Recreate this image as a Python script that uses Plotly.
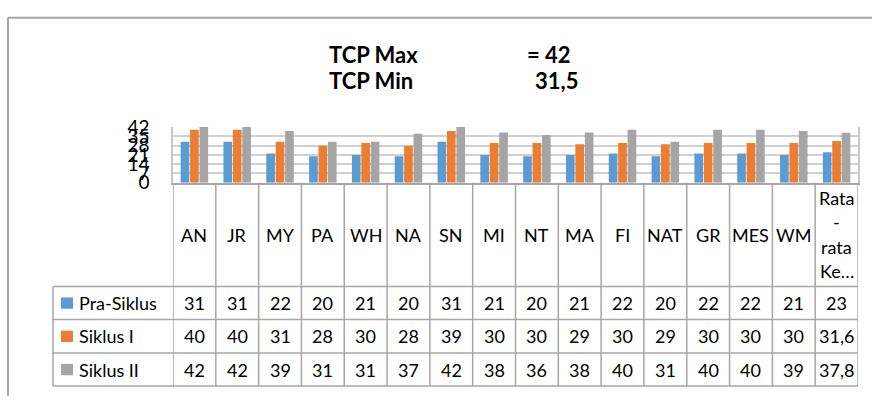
import plotly.graph_objects as go

# data
kategori = ["AN", "JR", "MY", "PA", "WH", "NA", "SN", "MI", "NT", "MA",
            "FI", "NAT", "GR", "MES", "WM", "Rata<br>-<br>rata<br>Ke…"]
pra_siklus = [31, 31, 22, 20, 21, 20, 31, 21, 20, 21, 22, 20, 22, 22, 21, 23]
siklus_1 = [40, 40, 31, 28, 30, 28, 39, 30, 30, 29, 30, 29, 30, 30, 30, 31.6]
siklus_2 = [42, 42, 39, 31, 31, 37, 42, 38, 36, 38, 40, 31, 40, 40, 39, 37.8]
y_ticks = [0, 7, 14, 21, 28, 35, 42]

seri = [
    ("Pra-Siklus", pra_siklus, "#5b9bd5"),
    ("Siklus I", siklus_1, "#ed7d31"),
    ("Siklus II", siklus_2, "#a5a5a5"),
]

W, H = 872, 407
FONT = "Lato, 'Open Sans', sans-serif"
LINE = "#a6a6a6"
TXT = 18


def fx(p):
    return p / W


def fy(p):
    return 1 - p / H


def fmt(v):
    return str(v).replace(".", ",")


# polozaj (pikseli) plot area i tablice
PL, PR, PT, PB = 173, 858, 122, 181
TAB_L = 53
redovi = [291, 326, 361.5, 396.5]

x_idx = list(range(len(kategori)))

fig = go.Figure()
for naziv, vals, boja in seri:
    fig.add_trace(go.Bar(x=x_idx, y=vals, name=naziv, marker_color=boja,
                         marker_line_width=0, showlegend=False))

shapes = []
annots = []

# okvir grafikona
shapes.append(dict(type="line", xref="paper", yref="paper", x0=fx(8), x1=1.0,
                   y0=fy(6), y1=fy(6), line=dict(color=LINE, width=2)))
shapes.append(dict(type="line", xref="paper", yref="paper", x0=fx(8), x1=fx(8),
                   y0=fy(6), y1=0, line=dict(color=LINE, width=2)))

# tablica - vertikalne linije
for i in range(len(kategori) + 1):
    shapes.append(dict(type="line", xref="x", yref="paper", x0=i - 0.5, x1=i - 0.5,
                       y0=fy(PB), y1=fy(redovi[-1]), line=dict(color=LINE, width=1.5)))
shapes.append(dict(type="line", xref="paper", yref="paper", x0=fx(TAB_L), x1=fx(TAB_L),
                   y0=fy(redovi[0]), y1=fy(redovi[-1]), line=dict(color=LINE, width=1.5)))
# horizontalne linije
for r in redovi:
    shapes.append(dict(type="line", xref="paper", yref="paper", x0=fx(TAB_L), x1=fx(PR),
                       y0=fy(r), y1=fy(r), line=dict(color=LINE, width=1.5)))

# nazivi kategorija
header_c = (PB + redovi[0]) / 2
for i, k in enumerate(kategori):
    linije = k.split("<br>")
    n = len(linije)
    for j, t in enumerate(linije):
        yy = header_c + (j - (n - 1) / 2) * 26
        annots.append(dict(x=i, y=fy(yy), xref="x", yref="paper", text=t,
                           showarrow=False, xanchor="center", yanchor="middle",
                           font=dict(size=TXT, color="#000", family=FONT)))

# redovi s vrijednostima i legenda
for r, (naziv, vals, boja) in enumerate(seri):
    yc = (redovi[r] + redovi[r + 1]) / 2
    shapes.append(dict(type="rect", xref="paper", yref="paper",
                       x0=fx(61), x1=fx(73), y0=fy(yc - 6), y1=fy(yc + 6),
                       fillcolor=boja, line=dict(width=0)))
    annots.append(dict(x=fx(77), y=fy(yc), xref="paper", yref="paper", text=naziv,
                       showarrow=False, xanchor="left", yanchor="middle",
                       font=dict(size=TXT, color="#000", family=FONT)))
    for i, v in enumerate(vals):
        annots.append(dict(x=i, y=fy(yc), xref="x", yref="paper", text=fmt(v),
                           showarrow=False, xanchor="center", yanchor="middle",
                           font=dict(size=TXT, color="#000", family=FONT)))

# naslov
for tekst, xp, yp in [("TCP Max", 327, 45), ("= 42", 525, 45),
                      ("TCP Min", 327, 73), ("31,5", 533, 73)]:
    annots.append(dict(x=fx(xp), y=fy(yp), xref="paper", yref="paper", text="<b>" + tekst + "</b>",
                       showarrow=False, xanchor="left", yanchor="middle",
                       font=dict(size=22, color="#000", family=FONT)))

fig.update_layout(
    width=W, height=H,
    margin=dict(l=0, r=0, t=0, b=0),
    paper_bgcolor="white", plot_bgcolor="white",
    barmode="group", bargap=0.34, bargroupgap=0.08,
    showlegend=False,
    shapes=shapes, annotations=annots,
    xaxis=dict(domain=[fx(PL), fx(PR)], range=[-0.5, len(kategori) - 0.5],
               showticklabels=False, showgrid=False, zeroline=False,
               showline=True, linecolor=LINE, linewidth=2, fixedrange=True),
    yaxis=dict(domain=[fy(PB), fy(PT)], range=[0, 42], tickvals=y_ticks,
               showgrid=True, gridcolor="#d0d0d0", gridwidth=1.5, zeroline=False,
               showline=True, linecolor="#c8c8c8", linewidth=1.5, mirror=True,
               ticks="", ticklabelstandoff=18,
               tickfont=dict(size=19, color="#000", family=FONT), fixedrange=True),
)

# bez margine body-ja da grafikon stoji tocno u prozoru
fig.write_html("out.html", config={"displayModeBar": False},
               post_script="document.body.style.margin='0';")
